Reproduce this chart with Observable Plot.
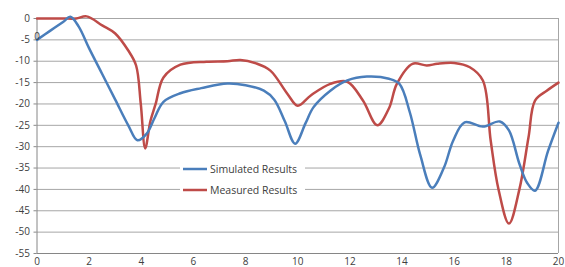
<!DOCTYPE html>
<html><head>
<meta charset="utf-8">
<script src="https://cdn.jsdelivr.net/npm/d3@7"></script>
<script src="https://cdn.jsdelivr.net/npm/@observablehq/plot@0.6"></script>
<style>body{margin:0;background:#fff} svg{display:block}</style>
</head><body><div id="chart"></div>
<script>
// Data
const simX = [0, 0.5, 1.0, 1.28, 1.6, 2, 2.5, 3, 3.5, 3.85, 4.2, 4.5, 4.85, 5.5, 6.3, 7.3, 8, 8.7, 9.1, 9.5, 9.9, 10.3, 10.6, 11.25, 11.9, 12.65, 13.5, 13.9, 14.3, 14.7, 15.15, 15.6, 15.96, 16.4, 17.1, 17.75, 18.1, 18.5, 18.8, 19.1, 19.6, 20];
const simY = [-5, -2.9, -0.8, 0.4, -1.9, -7, -13, -19, -25, -28.5, -27, -23.4, -19.5, -17.5, -16.3, -15.2, -15.6, -16.9, -19, -24, -29.3, -24.5, -20.8, -16.9, -14.5, -13.6, -14.1, -15.3, -22, -32, -39.6, -35, -28.6, -24.3, -25.3, -24.1, -26.2, -34, -38.5, -40.3, -31, -24.4];
const measX = [0, 0.5, 1, 1.5, 1.9, 2.5, 3, 3.5, 3.8, 3.98, 4.15, 4.35, 4.55, 4.85, 5.5, 6.5, 7.3, 7.8, 8.4, 8.95, 9.6, 10, 10.5, 11.25, 11.9, 12.5, 13.05, 13.5, 13.8, 14.4, 14.95, 15.35, 16, 16.6, 17.1, 17.4, 17.7, 18.1, 18.5, 18.85, 19.1, 19.55, 20];
const measY = [0, 0, 0, 0, 0.5, -1.6, -3.5, -7.5, -11, -20, -30.4, -24, -20, -13.8, -10.8, -10.1, -10, -9.7, -10.5, -12.2, -17.6, -20.4, -18, -15.3, -14.8, -19.2, -25, -21, -15.3, -10.6, -11, -10.6, -10.4, -11.4, -14.5, -28.6, -40, -48, -40, -27.8, -19.2, -16.9, -15];
const xTicks = [0, 2, 4, 6, 8, 10, 12, 14, 16, 18, 20];
const yTicks = [0, -5, -10, -15, -20, -25, -30, -35, -40, -45, -50, -55];
const seriesNames = ["Simulated Results", "Measured Results"];
const seriesColors = ["#4A7EBB", "#BE4B48"];
const strayLabel = [{x: 0, y: -4.2, t: "0"}];

const sim = simX.map((x, i) => ({x, y: simY[i]}));
const meas = measX.map((x, i) => ({x, y: measY[i]}));

const plot = Plot.plot({
  width: 565, height: 267,
  marginLeft: 36.5, marginRight: 7, marginTop: 18, marginBottom: 14,
  style: {fontFamily: "Open Sans, sans-serif", fontSize: "10px", color: "#404040", background: "#fff", overflow: "visible"},
  x: {domain: [0, 20]},
  y: {domain: [-55, 0]},
  marks: [
    Plot.ruleY(yTicks, {stroke: "#a6a6a6", strokeWidth: 1}),
    Plot.axisY({ticks: yTicks, tickSize: 3, tickPadding: 4, stroke: "#8a8a8a", label: null, tickFormat: d => String(d)}),
    Plot.axisX({ticks: xTicks, tickSize: 0, tickPadding: 4, label: null, tickFormat: d => String(d)}),
    Plot.ruleX([0], {stroke: "#868686", strokeWidth: 1}),
    Plot.ruleX([20], {stroke: "#a6a6a6", strokeWidth: 1}),
    Plot.ruleY([-55], {stroke: "#868686", strokeWidth: 1}),
    Plot.line(meas, {x: "x", y: "y", stroke: seriesColors[1], strokeWidth: 2.5, curve: "catmull-rom"}),
    Plot.line(sim, {x: "x", y: "y", stroke: seriesColors[0], strokeWidth: 2.5, curve: "catmull-rom"}),
    Plot.text(strayLabel, {x: "x", y: "y", text: "t", fill: "#404040", fontSize: 10})
  ]
});
document.getElementById("chart").appendChild(plot);

// In-plot legend
const svg = d3.select(plot);
const lg = svg.append("g").attr("text-anchor", "start");
lg.append("rect").attr("x", 180).attr("y", 159).attr("width", 125).attr("height", 40).attr("fill", "#fff");
seriesNames.forEach((name, i) => {
  const y = 169 + i * 21;
  lg.append("line").attr("x1", 183).attr("x2", 207).attr("y1", y).attr("y2", y)
    .attr("stroke", seriesColors[i]).attr("stroke-width", 2.5);
  lg.append("text").attr("x", 210).attr("y", y).attr("dy", "0.35em").attr("text-anchor", "start")
    .attr("font-family", "Open Sans, sans-serif").attr("font-size", 10.5).attr("fill", "#404040")
    .text(name);
});
</script>
</body></html>
